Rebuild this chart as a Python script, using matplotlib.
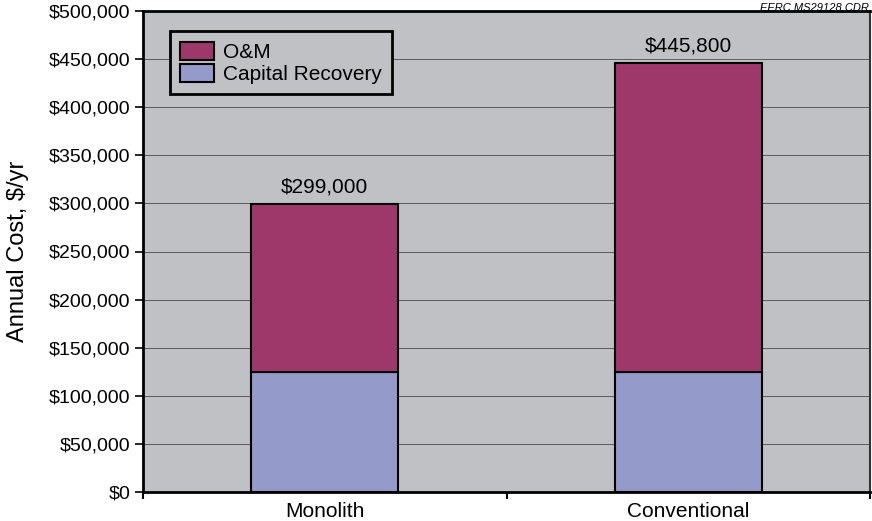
import matplotlib
matplotlib.use("Agg")
import matplotlib.pyplot as plt
import numpy as np
from matplotlib.ticker import FuncFormatter, FixedLocator

categories = ["Monolith", "Conventional"]
capital_recovery = [125000, 125000]
om = [174000, 320800]
totals = [299000, 445800]
total_labels = ["$299,000", "$445,800"]

plt.rcParams['font.family'] = ['Liberation Sans', 'DejaVu Sans']

fig = plt.figure(figsize=(8.72, 5.21), dpi=100)
ax = fig.add_axes([143/872, 29/521, 727/872, 481/521])
ax.set_facecolor('#C0C1C4')

x = np.arange(len(categories))
w = 0.405
ax.bar(x, capital_recovery, width=w, color='#949AC9', edgecolor='black', linewidth=1.5,
       label='Capital Recovery', zorder=3)
ax.bar(x, om, width=w, bottom=capital_recovery, color='#9E386B', edgecolor='black',
       linewidth=1.5, label='O&M', zorder=3)

for xi, t, lab in zip(x, totals, total_labels):
    ax.text(xi, t + 8000, lab, ha='center', va='bottom', fontsize=15)

ax.set_xlim(-0.5, 1.5)
ax.set_ylim(0, 500000)
ax.set_yticks(np.arange(0, 500001, 50000))
ax.yaxis.set_major_formatter(FuncFormatter(lambda v, p: f"${v:,.0f}"))
ax.yaxis.grid(True, color='#5a5a5a', linewidth=0.7, zorder=0)
ax.set_axisbelow(True)

ax.xaxis.set_major_locator(FixedLocator([-0.5, 0.5, 1.5]))
ax.set_xticklabels([])
ax.xaxis.set_minor_locator(FixedLocator(x))
ax.set_xticklabels(categories, minor=True)
ax.tick_params(axis='x', which='minor', length=0, labelsize=15, pad=7)
ax.tick_params(axis='x', which='major', length=5, width=1.5, direction='out')
ax.tick_params(axis='y', labelsize=14, length=6, width=1.2, direction='out', pad=3)

for s in ['left', 'bottom', 'top']:
    ax.spines[s].set_linewidth(2)
    ax.spines[s].set_color('black')
ax.spines['right'].set_linewidth(1.5)
ax.spines['right'].set_color('#333333')

ax.set_ylabel("Annual Cost, $/yr", fontsize=17, labelpad=14)

handles, labels = ax.get_legend_handles_labels()
leg = ax.legend(handles[::-1], labels[::-1], loc='upper left', bbox_to_anchor=(0.037, 0.958),
                borderaxespad=0, fontsize=15, frameon=True, fancybox=False, edgecolor='black',
                facecolor='#C0C1C4', framealpha=1, borderpad=0.5, handlelength=1.6,
                handleheight=0.95, handletextpad=0.45, labelspacing=0.1)
leg.get_frame().set_linewidth(2)

fig.text(869/872, 1 - 3/521, "EERC MS29128.CDR", ha='right', va='top', fontsize=8,
         style='italic')

fig.savefig("out.png", dpi=100)
